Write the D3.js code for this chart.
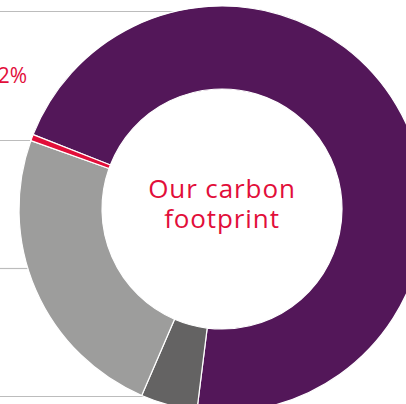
<!DOCTYPE html>
<html>
<head>
<meta charset="utf-8">
<script src="https://cdn.jsdelivr.net/npm/d3@7"></script>
<style>
  body { margin: 0; background: #fff; }
  svg { display: block; }
</style>
</head>
<body>
<div id="chart"></div>
<script>
// slices, clockwise starting at the purple one
var labels = ["Scope 3", "Scope 2", "Scope 1", "Other"]
var values = [71, 4.5, 24, 0.5]
var colors = ["#531759", "#646363", "#9d9d9c", "#e20e3a"]

// dividers of the (cropped) legend on the left
var dividerY = [11, 140, 268, 396]
var centreText = ["Our carbon", "footprint"]
var sideLabel = "2%"

var width = 406, height = 404
var cx = 222, cy = 209
var outerR = 203, innerR = 120

var svg = d3.select("#chart")
            .append("svg")
            .attr("width", width)
            .attr("height", height)

// divider runs until it meets the ring
function lineEnd(y) {
  var dy = y - cy
  if (Math.abs(dy) >= outerR) return cx
  return cx - Math.sqrt(outerR * outerR - dy * dy) + 4
}

svg.selectAll(".divider")
   .data(dividerY)
   .enter().append("line")
   .attr("class", "divider")
   .attr("x1", 0)
   .attr("x2", function(d) { return lineEnd(d) })
   .attr("y1", function(d) { return d + 0.5 })
   .attr("y2", function(d) { return d + 0.5 })
   .attr("stroke", "#bcbcbc")
   .attr("stroke-width", 1.2)

var start = -68.5 * Math.PI / 180
var pie = d3.pie()
            .sort(null)
            .startAngle(start)
            .endAngle(start + 2 * Math.PI)

var arc = d3.arc().innerRadius(innerR).outerRadius(outerR)

var g = svg.append("g").attr("transform", "translate(" + cx + "," + cy + ")")

g.selectAll("path")
 .data(pie(values))
 .enter().append("path")
 .attr("d", arc)
 .attr("fill", function(d, i) { return colors[i] })
 .attr("stroke", "#fff")
 .attr("stroke-width", 1.2)

var centre = g.append("text")
              .attr("text-anchor", "middle")
              .attr("font-family", "'Open Sans', sans-serif")
              .attr("font-size", 26)
              .attr("letter-spacing", 0.9)
              .attr("fill", "#e20e3a")

centre.selectAll("tspan")
      .data(centreText)
      .enter().append("tspan")
      .attr("x", 0)
      .attr("y", function(d, i) { return -11 + i * 30 })
      .text(function(d) { return d })

svg.append("text")
   .attr("x", 27)
   .attr("y", 83)
   .attr("text-anchor", "end")
   .attr("font-family", "'Open Sans', sans-serif")
   .attr("font-size", 21)
   .attr("fill", "#e20e3a")
   .text(sideLabel)
</script>
</body>
</html>
